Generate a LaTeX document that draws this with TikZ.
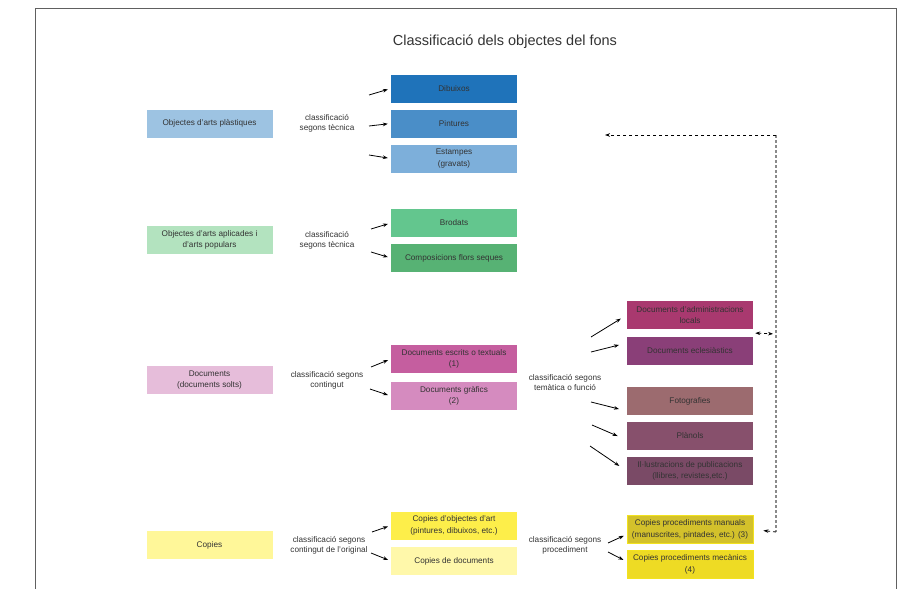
\documentclass[tikz,border=0pt]{standalone}
\usepackage{fontspec}
\setmainfont{Liberation Sans}
\usetikzlibrary{positioning,calc,arrows.meta}

\definecolor{txt}{HTML}{333333}
\definecolor{frameGray}{HTML}{606060}
\definecolor{linkGray}{HTML}{8A8A8A}
\definecolor{cPlast}{HTML}{9DC3E2}
\definecolor{cAplic}{HTML}{B3E3BF}
\definecolor{cDocs}{HTML}{E6BDDA}
\definecolor{cCopies}{HTML}{FFF799}
\definecolor{cDib}{HTML}{1F73BA}
\definecolor{cPint}{HTML}{4A8EC8}
\definecolor{cEstamp}{HTML}{7DAFDA}
\definecolor{cBrod}{HTML}{63C68E}
\definecolor{cFlors}{HTML}{57B274}
\definecolor{cEscrits}{HTML}{C55E9F}
\definecolor{cGrafics}{HTML}{D58BBF}
\definecolor{cCopArt}{HTML}{FDEE4A}
\definecolor{cCopDoc}{HTML}{FFF8AA}
\definecolor{cAdmin}{HTML}{A9396F}
\definecolor{cEcles}{HTML}{8A3F78}
\definecolor{cFoto}{HTML}{9C6B6F}
\definecolor{cPlanols}{HTML}{87506C}
\definecolor{cIllus}{HTML}{7A4A66}
\definecolor{cManuals}{HTML}{D3C12B}
\definecolor{cMecan}{HTML}{EEDB24}
\definecolor{cEdge}{HTML}{F2E21E}

\begin{document}
\begin{tikzpicture}[x=1pt,y=-1pt,>={Stealth[length=5pt,width=3.6pt]},node distance=35pt,on grid,
    box/.style={minimum width=126pt,minimum height=28pt,inner sep=1pt,align=center,text=txt,font=\fontsize{8.2}{11.5}\selectfont},
    lab/.style={align=center,text=txt,font=\fontsize{8.2}{10}\selectfont},
    arr/.style={->,black,line width=0.8pt,shorten >=3pt},
    link/.style={dashed,line width=0.8pt}]
    \useasboundingbox (0,0) rectangle (911,589);
    \draw[frameGray,line width=1pt] (35,589) -- (35,8) -- (896,8) -- (896,589);
    \node[text=txt,font=\fontsize{14.5}{16}\selectfont] (title) at (505,42) {Classificació dels objectes del fons};

    % left column
    \node[box,fill=cPlast] (plast) at (209.5,123.5) {Objectes d'arts plàstiques};
    \node[box,fill=cAplic] (aplic) at (209.5,240) {Objectes d'arts aplicades i\\d'arts populars};
    \node[box,fill=cDocs] (docs) at (209.5,380) {Documents\\(documents solts)};
    \node[box,fill=cCopies] (copies) at (209.5,545) {Copies};

    % first classification
    \node[box,fill=cPint] (pint) [right=244.5pt of plast] {Pintures};
    \node[box,fill=cDib] (dib) [above=of pint] {Dibuixos};
    \node[box,fill=cEstamp] (estamp) [below=of pint] {Estampes\\(gravats)};
    \node[box,fill=cBrod] (brod) [above right=17pt and 244.5pt of aplic] {Brodats};
    \node[box,fill=cFlors] (flors) [below=of brod] {Composicions flors seques};
    \node[box,fill=cEscrits] (escrits) [above right=21pt and 244.5pt of docs] {Documents escrits o textuals\\(1)};
    \node[box,fill=cGrafics] (grafics) [below=37pt of escrits] {Documents gràfics\\(2)};
    \node[box,fill=cCopArt] (copart) [above right=19.5pt and 244.5pt of copies] {Copies d'objectes d'art\\(pintures, dibuixos, etc.)};
    \node[box,fill=cCopDoc] (copdoc) [below=35.5pt of copart] {Copies de documents};

    % second classification
    \node[box,fill=cAdmin] (admin) at (690,315) {Documents d'administracions\\locals};
    \node[box,fill=cEcles] (ecles) [below=36pt of admin] {Documents eclesiàstics};
    \node[box,fill=cFoto] (foto) [below=50pt of ecles] {Fotografies};
    \node[box,fill=cPlanols] (planols) [below=of foto] {Plànols};
    \node[box,fill=cIllus] (illus) [below=of planols] {Il·lustracions de publicacions\\(llibres, revistes,etc.)};
    \node[box,fill=cManuals,draw=cEdge,line width=1pt] (manuals) at (690,529.5) {Copies procediments manuals\\(manuscrites, pintades, etc.) (3)};
    \node[box,fill=cMecan,draw=cEdge,line width=1pt] (mecan) [below=of manuals] {Copies procediments mecànics\\(4)};

    % criteria
    \node[lab] (lab1) [right=117.5pt of plast] {classificació\\segons tècnica};
    \node[lab] (lab2) [right=117.5pt of aplic] {classificació\\segons tècnica};
    \node[lab] (lab3) [right=117.5pt of docs] {classificació segons\\contingut};
    \node[lab] (lab4) [right=119.5pt of copies] {classificació segons\\contingut de l'original};
    \node[lab] (lab5) at (565,383) {classificació segons\\temàtica o funció};
    \node[lab] (lab6) at (565,545) {classificació segons\\procediment};

    \foreach \n/\px/\py in {a1/369/95, a2/369/126, a3/369/155, b1/371/229, b2/371/252,
        c1/371/367, c2/370/389, d1/372/532, d2/371/553, e1/591/337, e2/591/352,
        e3/591/402, e4/592/425, e5/590/446, f1/608/543, f2/608/552}
      \coordinate (\n) at (\px,\py);

    \path[arr]
    (a1) edge (dib.west)
    (a2) edge (pint.west)
    (a3) edge (estamp.west)
    (b1) edge (brod.west)
    (b2) edge (flors.west)
    (c1) edge (escrits.west)
    (c2) edge (grafics.west)
    (d1) edge (copart.west)
    (d2) edge (copdoc.west)
    (e1) edge [shorten >=7pt] (admin.west)
    (e2) edge [shorten >=8pt] ([yshift=8pt]ecles.west)
    (e3) edge [shorten >=8pt] ([yshift=-10pt]foto.west)
    (e4) edge [shorten >=10pt] ([yshift=-4pt]planols.west)
    (e5) edge [shorten >=9pt] (illus.west)
    (f1) edge ([yshift=-5pt]manuals.west)
    (f2) edge [shorten >=3.5pt] ([yshift=3pt]mecan.west);

    % link between copies and originals
    \coordinate (corner) at (776,135);
    \coordinate (back) at (605,135);
    \coordinate (fork) at (776,334);
    \coordinate (foot) at (776,532);
    \draw[link,linkGray,line width=1.3pt,dash pattern=on 3pt off 2pt] (corner) -- (foot);
    \draw[link,->] (corner) -- (back);
    \draw[link,<->,shorten <=2pt,shorten >=3pt] ($(admin.south east)!0.5!(ecles.north east)$) -- (fork);
    \draw[link,->,shorten >=10pt] (foot) -- (manuals.east);
\end{tikzpicture}
\end{document}
